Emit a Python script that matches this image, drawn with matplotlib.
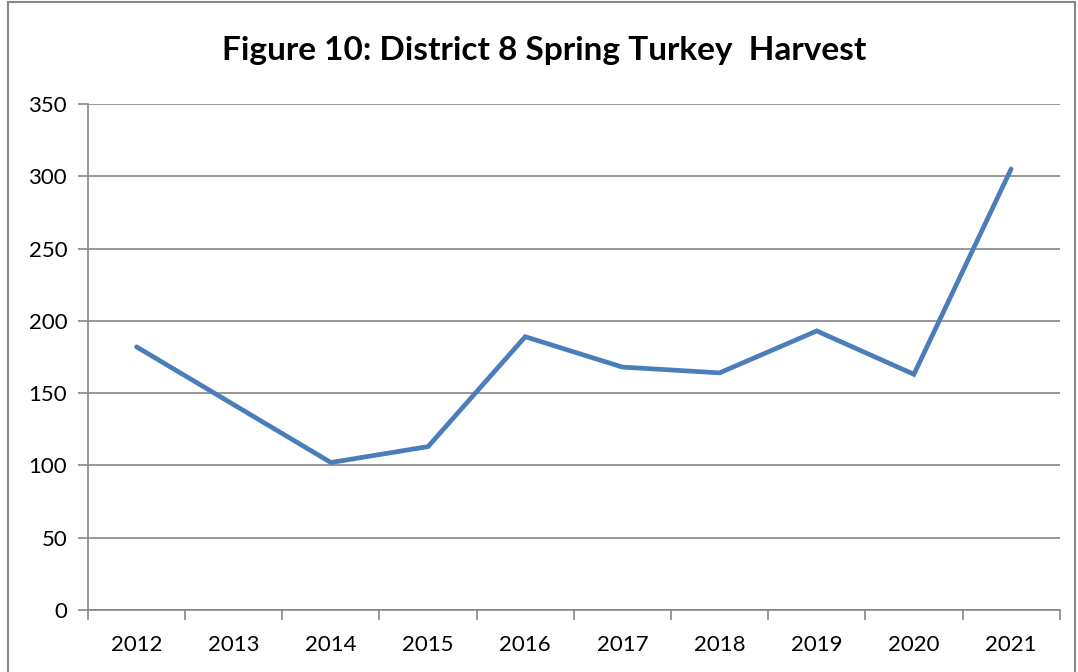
import matplotlib.pyplot as plt
from matplotlib.patches import Rectangle

years = ["2012", "2013", "2014", "2015", "2016", "2017", "2018", "2019", "2020", "2021"]
harvest = [182, 142, 102, 113, 189, 168, 164, 193, 163, 305]
y_ticks = [0, 50, 100, 150, 200, 250, 300, 350]

plt.rcParams["font.family"] = ["Lato", "DejaVu Sans"]

fig = plt.figure(figsize=(10.78, 6.72), dpi=100)
ax = fig.add_axes([0.0816, 0.0923, 0.9014, 0.7530])

x = list(range(len(years)))
ax.plot(x, harvest, color="#4A7EBB", linewidth=3.4, solid_capstyle="round",
        solid_joinstyle="miter")

ax.set_xlim(-0.5, len(years) - 0.5)
ax.set_ylim(0, 350)
ax.set_yticks(y_ticks)
ax.set_yticklabels([str(v) for v in y_ticks], fontsize=16)
ax.set_xticks(x)
ax.set_xticklabels(years, fontsize=16)
ax.set_xticks([i - 0.5 for i in range(len(years) + 1)], minor=True)
ax.tick_params(axis="x", which="major", length=0, pad=18)
ax.tick_params(axis="x", which="minor", length=7, color="#868686", width=1.2)
ax.tick_params(axis="y", length=7, color="#868686", width=1.2, pad=8)

ax.grid(axis="y", color="#868686", linewidth=1.2)
ax.set_axisbelow(True)
for side in ["top", "right"]:
    ax.spines[side].set_visible(False)
for side in ["left", "bottom"]:
    ax.spines[side].set_color("#868686")
    ax.spines[side].set_linewidth(1.2)

fig.text(0.505, 0.925, "Figure 10: District 8 Spring Turkey  Harvest",
         ha="center", va="center", fontsize=24, fontweight="bold")

fig.patches.append(Rectangle((0.007, -0.01), 0.99, 1.007, transform=fig.transFigure,
                             fill=False, edgecolor="#868686", linewidth=1.5))

fig.savefig("out.png", dpi=100)
